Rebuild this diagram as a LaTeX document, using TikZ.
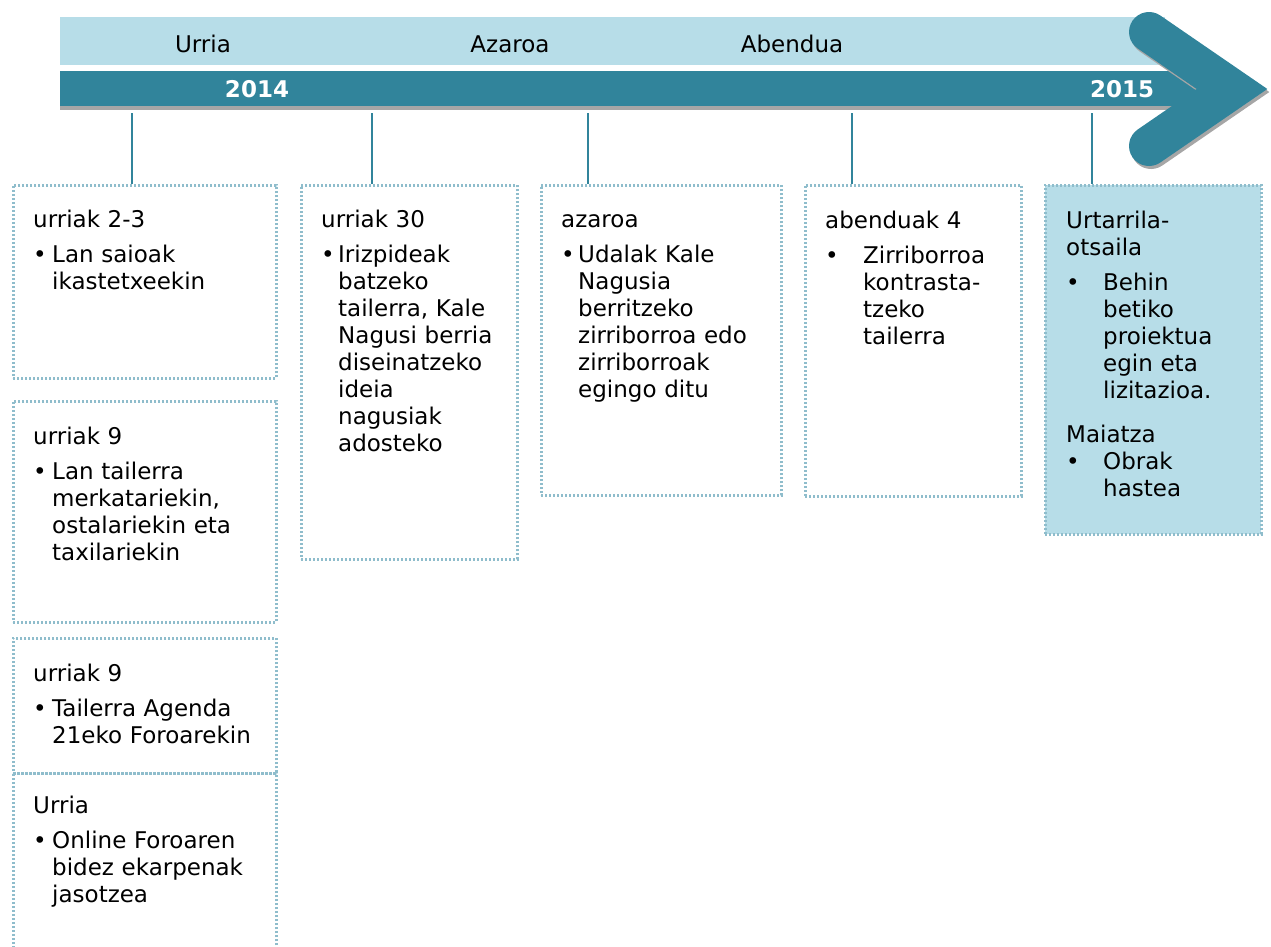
\documentclass[tikz,border=0pt]{standalone}
\usepackage{fontspec}
\setmainfont{DejaVu Sans}
\definecolor{dark}{HTML}{31849B}
\definecolor{light}{HTML}{B7DDE8}
\definecolor{dotc}{HTML}{8FBDCC}
\definecolor{shadowc}{HTML}{A6A6A6}
\newcommand{\bitem}[2]{\makebox[#1][l]{\textbullet}#2}
\newcommand{\citem}[2]{\hspace*{#1}#2}
\tikzset{
  evbox/.style={draw=dotc, line width=2.5pt, dash pattern=on 2pt off 2pt, rectangle, inner sep=0pt, anchor=north west},
  txt/.style={anchor=base west, inner sep=0pt, text width=250pt, align=left, font=\fontsize{23}{27}\selectfont},
  month/.style={anchor=base, inner sep=0pt, font=\fontsize{23}{27}\selectfont},
  year/.style={anchor=base, inner sep=0pt, text=white, font=\fontsize{23}{27}\selectfont\bfseries},
  conn/.style={draw=dark, line width=2.5pt},
  chev/.style={line width=40pt, line cap=round, line join=miter}
}
\begin{document}
\begin{tikzpicture}[x=1pt, y=-1pt]
\useasboundingbox (0,0) rectangle (1271,946);
\clip (0,0) rectangle (1271,946);
% bars
\fill[light] (60,17) rectangle (1165,65);
\fill[shadowc] (60,75) rectangle (1200,110);
\fill[dark] (60,71) rectangle (1200,106);
\draw[chev, draw=shadowc] (1151,35) -- (1234,92) -- (1151,149);
\draw[chev, draw=dark] (1149,32) -- (1232,89) -- (1149,146);
% bar texts
\node[month] (m1) at (203,52) {Urria};
\node[month] (m2) at (510,52) {Azaroa};
\node[month] (m3) at (792,52) {Abendua};
\node[year] (y1) at (257,97) {2014};
\node[year] (y2) at (1122,97) {2015};
% boxes
\node[evbox, minimum width=263pt, minimum height=193pt] (b1) at (12,184) {};
\node[evbox, minimum width=263pt, minimum height=221pt] (b2) at (12,400) {};
\node[evbox, minimum width=263pt, minimum height=135pt] (b3) at (12,637) {};
\node[evbox, minimum width=263pt, minimum height=185pt] (b4) at (12,772) {};
\node[evbox, minimum width=216pt, minimum height=374pt] (c2) at (300,184) {};
\node[evbox, minimum width=240pt, minimum height=310pt] (c3) at (540,184) {};
\node[evbox, minimum width=216pt, minimum height=311pt] (c4) at (804,184) {};
\node[evbox, fill=light, minimum width=216pt, minimum height=349pt] (c5) at (1044,184) {};
% connectors
\coordinate (t1) at (132,113);
\coordinate (t2) at (372,113);
\coordinate (t3) at (588,113);
\coordinate (t4) at (852,113);
\coordinate (t5) at (1092,113);
\draw[conn] (t1) -- (t1 |- b1.north);
\draw[conn] (t2) -- (t2 |- c2.north);
\draw[conn] (t3) -- (t3 |- c3.north);
\draw[conn] (t4) -- (t4 |- c4.north);
\draw[conn] (t5) -- (t5 |- c5.north);
% texts
\node[txt] (x1) at (33,227) {urriak 2-3\\[8pt]\bitem{19pt}{Lan saioak}\\\citem{19pt}{ikastetxeekin}};
\node[txt] (x2) at (33,444) {urriak 9\\[8pt]\bitem{19pt}{Lan tailerra}\\\citem{19pt}{merkatariekin,}\\\citem{19pt}{ostalariekin eta}\\\citem{19pt}{taxilariekin}};
\node[txt] (x3) at (33,681) {urriak 9\\[8pt]\bitem{19pt}{Tailerra Agenda}\\\citem{19pt}{21eko Foroarekin}};
\node[txt] (x4) at (33,813) {Urria\\[8pt]\bitem{19pt}{Online Foroaren}\\\citem{19pt}{bidez ekarpenak}\\\citem{19pt}{jasotzea}};
\node[txt] (x5) at (321,227) {urriak 30\\[8pt]\bitem{17pt}{Irizpideak}\\\citem{17pt}{batzeko}\\\citem{17pt}{tailerra, Kale}\\\citem{17pt}{Nagusi berria}\\\citem{17pt}{diseinatzeko}\\\citem{17pt}{ideia}\\\citem{17pt}{nagusiak}\\\citem{17pt}{adosteko}};
\node[txt] (x6) at (561,227) {azaroa\\[8pt]\bitem{17pt}{Udalak Kale}\\\citem{17pt}{Nagusia}\\\citem{17pt}{berritzeko}\\\citem{17pt}{zirriborroa edo}\\\citem{17pt}{zirriborroak}\\\citem{17pt}{egingo ditu}};
\node[txt] (x7) at (825,228) {abenduak 4\\[8pt]\bitem{38pt}{Zirriborroa}\\\citem{38pt}{kontrasta-}\\\citem{38pt}{tzeko}\\\citem{38pt}{tailerra}};
\node[txt] (x8) at (1066,228) {Urtarrila-\\otsaila\\[8pt]\bitem{37pt}{Behin}\\\citem{37pt}{betiko}\\\citem{37pt}{proiektua}\\\citem{37pt}{egin eta}\\\citem{37pt}{lizitazioa.}\\[17pt]Maiatza\\\bitem{37pt}{Obrak}\\\citem{37pt}{hastea}};
\end{tikzpicture}
\end{document}
